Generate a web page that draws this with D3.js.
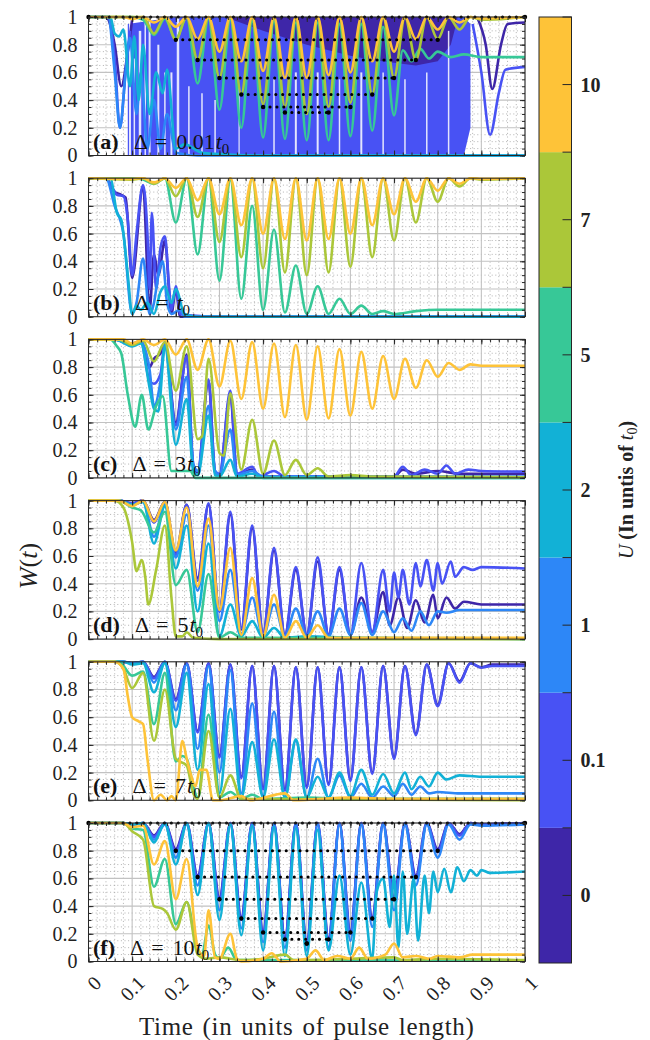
<!DOCTYPE html>
<html>
<head>
<meta charset="utf-8">
<script src="https://cdn.jsdelivr.net/npm/d3@7"></script>
<style>
  body { margin: 0; background: #fff; }
  svg { display: block; }
</style>
</head>
<body>
<svg id="chart" width="650" height="1040"></svg>
<script>
// ---- colour bar categories (U in units of t0) ----
const uLevels = ["0", "0.1", "1", "2", "5", "7", "10"];
const uColors = ["#3e26a8", "#4852f4", "#2d87f7", "#12b1d6", "#37c897", "#abc739", "#fec338"];

const panelTags = ["(a)", "(b)", "(c)", "(d)", "(e)", "(f)"];
const deltaValues = ["0.01", "", "3", "5", "7", "10"];

const xTicks = [0, 0.1, 0.2, 0.3, 0.4, 0.5, 0.6, 0.7, 0.8, 0.9, 1];
const yTicks = [0, 0.2, 0.4, 0.6, 0.8, 1];

// ---- panel (a), Delta = 0.01 t0 ----  [t, W], null = gap
const aU0 = [[0,1],[0.04,1],[0.06,0.8],[0.075,0.5],[0.09,0.75],[0.1,0.98],[0.105,null],[0.885,null],[0.89,1],[0.91,0.8],[0.925,0.48],[0.945,0.8],[0.96,0.95],[1,0.96]];
const aU01 = [[0,1],[0.045,1],[0.06,0.7],[0.072,0.2],[0.085,0.6],[0.095,0.9],[0.1,null],[0.875,null],[0.88,0.95],[0.9,0.6],[0.92,0.15],[0.94,0.45],[0.955,0.62],[1,0.64]];
const aU1 = [[0,1],[0.045,1],[0.06,0.6],[0.072,0.2],[0.085,0.6],[0.095,0.85],[0.11,0.3],[0.12,0.6],[0.135,0.05],[0.15,0.4],[0.165,0.05],[0.18,0.3],[0.2,0.02],[0.25,0],[1,0]];
const aU2 = [[0,1],[0.05,1],[0.06,0.88],[0.07,0.86],[0.08,0.91],[0.095,0.5],[0.105,0.86],[0.115,0.4],[0.125,0.8],[0.14,0.3],[0.155,0.6],[0.17,0.45],[0.18,0.62],[0.2,0.05],[0.22,0.08],[0.26,0.02],[0.3,0.01],[0.4,0],[1,0]];
const aU5 = [[0,1],[0.1,1],[0.125,0.98],[0.15,0.87],[0.175,0.99],[0.2,0.84],[0.225,1],[0.25,0.52],[0.275,0.99],[0.3,0.33],[0.325,0.98],[0.35,0.2],[0.375,0.97],[0.4,0.13],[0.425,0.97],[0.45,0.12],[0.475,0.96],[0.5,0.11],[0.525,0.96],[0.55,0.11],[0.575,0.95],[0.6,0.14],[0.625,0.95],[0.65,0.18],[0.675,0.93],[0.7,0.29],[0.72,0.76],[0.74,0.68],[0.76,0.77],[0.78,0.7],[0.8,0.75],[0.83,0.71],[0.86,0.73],[0.9,0.71],[1,0.71]];
const aU7 = [[0,1],[0.1,1],[0.125,1],[0.15,0.88],[0.175,1],[0.2,0.835],[0.225,1],[0.25,0.69],[0.275,1],[0.3,0.56],[0.325,1],[0.35,0.44],[0.375,1],[0.4,0.37],[0.425,1],[0.45,0.35],[0.475,1],[0.5,0.3],[0.525,1],[0.55,0.35],[0.575,1],[0.6,0.38],[0.625,1],[0.65,0.44],[0.675,1],[0.7,0.56],[0.725,1],[0.75,0.69],[0.775,1],[0.8,0.84],[0.825,1],[0.85,0.91],[0.875,1],[0.9,0.98],[1,1]];
const aU10 = [[0,1],[0.08,1],[0.1,0.985],[0.125,1],[0.15,0.96],[0.175,1],[0.2,0.93],[0.225,1],[0.25,0.84],[0.275,1],[0.3,0.75],[0.325,1],[0.35,0.68],[0.375,1],[0.4,0.61],[0.425,1],[0.45,0.56],[0.475,1],[0.5,0.56],[0.525,1],[0.55,0.58],[0.575,1],[0.6,0.6],[0.625,1],[0.65,0.68],[0.675,1],[0.7,0.75],[0.725,1],[0.75,0.84],[0.775,1],[0.8,0.91],[0.825,1],[0.85,0.96],[0.875,1],[0.9,0.99],[1,1]];
// fast oscillation envelopes [t, low, high]
const aFastU01 = [[0.09,0,0.95],[0.2,0,1],[0.5,0,1],[0.86,0,1],[0.875,0.2,0.95]];
const aFastU0 = [[0.33,0.98,1],[0.4,0.9,1],[0.45,0.85,1],[0.5,0.8,1],[0.55,0.76,1],[0.6,0.72,1],[0.65,0.69,1],[0.7,0.67,1],[0.75,0.65,1],[0.8,0.68,1],[0.83,0.8,1],[0.845,0.98,1]];
// white streaks inside the fast band [t, W top, width]
const aGaps = [[0.095,1,2],[0.105,0.7,1.5],[0.118,0.9,2.5],[0.13,1,1.5],[0.14,1,2],[0.16,0.8,2],[0.175,0.6,1.5],[0.19,0.6,2],[0.205,1,2.5],[0.23,0.5,1.5],[0.26,0.45,1.5],[0.29,0.4,1.5],[0.345,0.5,1.2],[0.425,0.55,1.5],[0.475,0.6,2],[0.525,0.6,2],[0.575,0.55,1.5],[0.625,0.6,2],[0.675,0.6,1.5],[0.725,0.55,1.5],[0.775,0.6,1.5],[0.825,0.9,1.5]];
// black reference: dotted rows [t start, t end, W]
const aRows = [[0,1,1],[0.2,0.8,0.835],[0.25,0.75,0.69],[0.3,0.7,0.56],[0.35,0.65,0.44],[0.4,0.6,0.35],[0.45,0.55,0.31]];

// ---- panel (b), Delta = t0 ----
const bU0 = [[0,1],[0.04,1],[0.06,0.9],[0.075,0.88],[0.085,0.86],[0.1,0.28],[0.125,0.94],[0.14,0.05],[0.15,0.45],[0.16,0.3],[0.175,0.55],[0.19,0.02],[0.2,0.2],[0.21,0],[1,0]];
const bU01 = [[0,1],[0.04,1],[0.055,0.93],[0.065,0.88],[0.08,0.87],[0.09,0.7],[0.1,0.3],[0.11,0.6],[0.125,0.95],[0.135,0.6],[0.14,0.2],[0.145,0.75],[0.155,0.2],[0.165,0.5],[0.175,0.58],[0.185,0.2],[0.19,0.05],[0.2,0.22],[0.21,0.02],[0.23,0.01],[0.3,0],[1,0]];
const bU1 = [[0,1],[0.04,1],[0.06,0.8],[0.08,0.6],[0.1,0.02],[0.11,0.1],[0.125,0.42],[0.14,0.02],[0.15,0.1],[0.16,0.3],[0.17,0.4],[0.18,0.1],[0.19,0.02],[0.21,0.05],[0.22,0],[1,0]];
const bU2 = [[0,1],[0.05,1],[0.065,0.75],[0.075,0.7],[0.09,0.3],[0.1,0.02],[0.11,0.08],[0.12,0.05],[0.135,0.1],[0.15,0.02],[0.165,0.18],[0.175,0.22],[0.19,0.1],[0.2,0.2],[0.22,0.02],[0.25,0],[1,0]];
const bU5 = [[0,1],[0.1,1],[0.125,0.99],[0.15,0.96],[0.175,1],[0.2,0.68],[0.225,1],[0.25,0.45],[0.275,1],[0.3,0.26],[0.325,0.99],[0.35,0.13],[0.375,0.8],[0.4,0.05],[0.425,0.63],[0.45,0.03],[0.475,0.37],[0.5,0.02],[0.525,0.22],[0.55,0.02],[0.575,0.13],[0.6,0.02],[0.625,0.08],[0.65,0.02],[0.675,0.04],[0.7,0.02],[0.75,0.04],[0.8,0.05],[0.9,0.05],[1,0.05]];
const bU7 = [[0,1],[0.1,0.99],[0.125,1],[0.15,0.96],[0.175,1],[0.2,0.87],[0.225,1],[0.25,0.72],[0.275,1],[0.3,0.54],[0.325,1],[0.35,0.43],[0.375,1],[0.4,0.35],[0.425,1],[0.45,0.32],[0.475,1],[0.5,0.3],[0.525,1],[0.55,0.32],[0.575,1],[0.6,0.36],[0.625,1],[0.65,0.43],[0.675,1],[0.7,0.55],[0.725,1],[0.75,0.68],[0.775,1],[0.8,0.83],[0.825,1],[0.85,0.94],[0.875,1],[0.9,0.99],[1,1]];
const bU10 = [[0,1],[0.1,0.995],[0.125,1],[0.15,0.97],[0.175,1],[0.2,0.93],[0.225,1],[0.25,0.84],[0.275,1],[0.3,0.74],[0.325,1],[0.35,0.66],[0.375,1],[0.4,0.6],[0.425,1],[0.45,0.56],[0.475,1],[0.5,0.55],[0.525,1],[0.55,0.56],[0.575,1],[0.6,0.6],[0.625,1],[0.65,0.66],[0.675,1],[0.7,0.74],[0.725,1],[0.75,0.83],[0.775,1],[0.8,0.91],[0.825,1],[0.85,0.96],[0.875,1],[0.9,0.995],[1,1]];

// ---- panel (c), Delta = 3 t0 ----
const cU0 = [[0,1],[0.06,1],[0.1,0.97],[0.12,0.99],[0.14,0.8],[0.15,0.86],[0.165,0.9],[0.175,0.98],[0.2,0.4],[0.225,0.89],[0.24,0.08],[0.25,0.04],[0.275,0.7],[0.29,0.04],[0.3,0.02],[0.325,0.6],[0.34,0.02],[0.375,0.06],[0.39,0.01],[0.7,0.01],[0.72,0.06],[0.75,0.03],[0.8,0.05],[0.85,0.03],[0.9,0.03],[1,0.03]];
const cU01 = [[0,1],[0.06,1],[0.1,0.96],[0.12,0.98],[0.14,0.7],[0.15,0.68],[0.165,0.75],[0.175,0.97],[0.2,0.38],[0.225,0.88],[0.24,0.1],[0.25,0.05],[0.275,0.71],[0.29,0.05],[0.3,0.03],[0.325,0.63],[0.34,0.03],[0.375,0.08],[0.39,0.01],[0.425,0.05],[0.45,0.01],[0.6,0.01],[0.7,0.01],[0.72,0.08],[0.74,0.02],[0.77,0.06],[0.8,0.03],[0.82,0.09],[0.84,0.03],[0.87,0.06],[0.9,0.05],[1,0.045]];
const cU1 = [[0,1],[0.06,1],[0.1,0.96],[0.12,0.98],[0.14,0.78],[0.15,0.52],[0.165,0.7],[0.175,0.96],[0.2,0.35],[0.225,0.73],[0.24,0.1],[0.25,0.05],[0.275,0.52],[0.29,0.05],[0.3,0.02],[0.325,0.35],[0.34,0.02],[0.375,0.05],[0.4,0.01],[1,0.01]];
const cU2 = [[0,1],[0.06,1],[0.1,0.95],[0.12,0.97],[0.14,0.65],[0.15,0.5],[0.16,0.48],[0.175,0.95],[0.2,0.24],[0.225,0.57],[0.24,0.05],[0.25,0.02],[0.275,0.45],[0.29,0.02],[0.3,0.01],[0.325,0.13],[0.34,0.01],[0.375,0.03],[0.4,0],[1,0]];
const cU5 = [[0,1],[0.05,1],[0.065,0.95],[0.075,0.9],[0.09,0.6],[0.107,0.37],[0.122,0.6],[0.137,0.35],[0.155,0.52],[0.17,0.59],[0.19,0.05],[0.233,0.05],[0.245,0],[1,0]];
const cU7 = [[0,1],[0.07,1],[0.1,0.96],[0.125,0.99],[0.15,0.84],[0.175,0.98],[0.2,0.63],[0.225,0.95],[0.25,0.28],[0.26,0.3],[0.275,0.86],[0.3,0.18],[0.31,0.16],[0.325,0.61],[0.35,0.06],[0.375,0.42],[0.4,0.03],[0.425,0.27],[0.45,0.02],[0.475,0.13],[0.5,0.02],[0.525,0.07],[0.55,0.01],[0.6,0.02],[0.65,0.01],[1,0.005]];
const cU10 = [[0,1],[0.08,1],[0.1,0.97],[0.125,1],[0.15,0.96],[0.175,1],[0.2,0.89],[0.225,1],[0.25,0.78],[0.275,1],[0.3,0.66],[0.325,0.99],[0.35,0.57],[0.375,0.98],[0.4,0.5],[0.425,0.97],[0.45,0.44],[0.475,0.96],[0.5,0.42],[0.525,0.95],[0.55,0.43],[0.575,0.93],[0.6,0.45],[0.625,0.91],[0.65,0.5],[0.675,0.88],[0.7,0.57],[0.725,0.86],[0.75,0.65],[0.775,0.85],[0.8,0.73],[0.825,0.83],[0.85,0.78],[0.875,0.82],[0.9,0.81],[1,0.81]];

// ---- panel (d), Delta = 5 t0 ----
const dU0 = [[0,1],[0.07,1],[0.1,0.98],[0.125,1],[0.15,0.86],[0.175,0.99],[0.2,0.63],[0.225,0.97],[0.25,0.44],[0.275,0.97],[0.3,0.2],[0.325,0.9],[0.35,0.07],[0.375,0.8],[0.4,0.04],[0.425,0.64],[0.45,0.03],[0.475,0.5],[0.5,0.03],[0.525,0.56],[0.55,0.03],[0.575,0.5],[0.6,0.03],[0.625,0.3],[0.65,0.05],[0.675,0.34],[0.69,0.1],[0.71,0.3],[0.73,0.08],[0.75,0.28],[0.77,0.12],[0.79,0.32],[0.8,0.15],[0.82,0.3],[0.84,0.22],[0.86,0.27],[0.9,0.25],[1,0.25]];
const dU01 = [[0,1],[0.07,1],[0.1,0.98],[0.125,1],[0.15,0.84],[0.175,0.99],[0.2,0.61],[0.225,0.97],[0.25,0.42],[0.275,0.98],[0.3,0.2],[0.325,0.92],[0.35,0.08],[0.375,0.82],[0.4,0.04],[0.425,0.66],[0.45,0.03],[0.475,0.52],[0.5,0.03],[0.525,0.59],[0.55,0.03],[0.575,0.52],[0.6,0.03],[0.625,0.55],[0.65,0.05],[0.675,0.5],[0.69,0.2],[0.7,0.48],[0.71,0.3],[0.72,0.5],[0.735,0.25],[0.75,0.55],[0.76,0.38],[0.775,0.57],[0.79,0.35],[0.8,0.55],[0.81,0.4],[0.83,0.56],[0.84,0.45],[0.86,0.52],[0.88,0.5],[0.9,0.52],[1,0.51]];
const dU1 = [[0,1],[0.07,1],[0.1,0.97],[0.125,0.99],[0.15,0.74],[0.175,0.97],[0.2,0.59],[0.225,0.9],[0.25,0.35],[0.275,0.82],[0.3,0.13],[0.325,0.5],[0.35,0.04],[0.375,0.3],[0.4,0.02],[0.425,0.25],[0.45,0.02],[0.475,0.22],[0.5,0.02],[0.525,0.2],[0.55,0.02],[0.575,0.22],[0.6,0.03],[0.625,0.26],[0.65,0.03],[0.675,0.2],[0.7,0.05],[0.72,0.15],[0.74,0.06],[0.76,0.2],[0.78,0.1],[0.8,0.2],[0.82,0.19],[0.85,0.21],[0.9,0.21],[1,0.21]];
const dU2 = [[0,1],[0.07,1],[0.1,0.97],[0.125,0.99],[0.15,0.69],[0.175,0.96],[0.2,0.51],[0.225,0.82],[0.25,0.2],[0.275,0.69],[0.3,0.02],[0.325,0.25],[0.35,0.02],[0.375,0.13],[0.4,0.01],[0.425,0.08],[0.45,0.01],[0.5,0.02],[0.6,0.01],[1,0]];
const dU5 = [[0,1],[0.07,1],[0.1,0.95],[0.12,0.93],[0.15,0.77],[0.175,0.92],[0.2,0.39],[0.225,0.5],[0.25,0.05],[0.275,0.47],[0.3,0.01],[0.325,0.05],[0.35,0.01],[1,0.005]];
const dU7 = [[0,1],[0.06,1],[0.08,0.95],[0.1,0.7],[0.11,0.49],[0.122,0.57],[0.13,0.45],[0.137,0.25],[0.155,0.5],[0.175,0.82],[0.19,0.3],[0.2,0.02],[0.215,0.02],[0.225,0.05],[0.24,0.01],[0.3,0],[1,0]];
const dU10 = [[0,1],[0.07,1],[0.1,0.96],[0.125,1],[0.15,0.85],[0.175,0.99],[0.2,0.64],[0.225,0.95],[0.25,0.38],[0.275,0.87],[0.3,0.21],[0.325,0.66],[0.35,0.03],[0.375,0.44],[0.4,0.02],[0.425,0.32],[0.45,0.01],[0.475,0.13],[0.5,0.01],[0.525,0.1],[0.55,0.01],[0.6,0.01],[0.7,0.01],[1,0.01]];

// ---- panel (e), Delta = 7 t0 ----
const eU0 = [[0,1],[0.08,1],[0.1,0.99],[0.125,1],[0.15,0.89],[0.175,1],[0.2,0.73],[0.225,0.99],[0.25,0.5],[0.275,0.99],[0.3,0.32],[0.325,0.98],[0.35,0.17],[0.375,0.97],[0.4,0.09],[0.425,0.97],[0.45,0.08],[0.475,0.96],[0.5,0.1],[0.525,0.96],[0.55,0.12],[0.575,0.96],[0.6,0.15],[0.625,0.96],[0.65,0.2],[0.675,0.97],[0.7,0.31],[0.725,0.97],[0.75,0.48],[0.775,0.98],[0.8,0.69],[0.825,0.99],[0.85,0.86],[0.875,0.99],[0.9,0.96],[0.925,0.98],[1,0.98]];
const eU01 = [[0,1],[0.08,1],[0.1,0.99],[0.125,1],[0.15,0.88],[0.175,1],[0.2,0.72],[0.225,0.99],[0.25,0.49],[0.275,0.99],[0.3,0.31],[0.325,0.98],[0.35,0.16],[0.375,0.97],[0.4,0.08],[0.425,0.97],[0.45,0.07],[0.475,0.96],[0.5,0.09],[0.525,0.96],[0.55,0.11],[0.575,0.96],[0.6,0.14],[0.625,0.96],[0.65,0.19],[0.675,0.97],[0.7,0.3],[0.725,0.97],[0.75,0.47],[0.775,0.98],[0.8,0.68],[0.825,0.99],[0.85,0.85],[0.875,0.99],[0.9,0.96],[0.925,0.97],[1,0.97]];
const eU1 = [[0,1],[0.08,1],[0.1,0.99],[0.125,1],[0.15,0.85],[0.175,1],[0.2,0.65],[0.225,0.98],[0.25,0.37],[0.275,0.97],[0.3,0.2],[0.325,0.94],[0.35,0.05],[0.375,0.7],[0.4,0.03],[0.425,0.64],[0.45,0.02],[0.475,0.43],[0.5,0.02],[0.525,0.3],[0.55,0.02],[0.575,0.18],[0.6,0.02],[0.625,0.12],[0.65,0.02],[0.675,0.1],[0.7,0.03],[0.72,0.12],[0.74,0.04],[0.76,0.1],[0.78,0.05],[0.8,0.06],[0.85,0.05],[1,0.05]];
const eU2 = [[0,1],[0.08,1],[0.1,0.98],[0.125,0.99],[0.15,0.78],[0.175,0.99],[0.2,0.53],[0.225,0.92],[0.25,0.22],[0.275,0.84],[0.3,0.05],[0.325,0.66],[0.35,0.02],[0.375,0.42],[0.4,0.02],[0.425,0.44],[0.45,0.02],[0.475,0.44],[0.5,0.02],[0.525,0.17],[0.55,0.02],[0.575,0.2],[0.6,0.03],[0.625,0.22],[0.65,0.04],[0.675,0.19],[0.7,0.05],[0.725,0.2],[0.74,0.08],[0.76,0.17],[0.78,0.1],[0.8,0.2],[0.82,0.15],[0.85,0.18],[0.9,0.17],[1,0.17]];
const eU5 = [[0,1],[0.07,1],[0.1,0.9],[0.125,0.93],[0.15,0.55],[0.175,0.92],[0.2,0.28],[0.215,0.32],[0.225,0.3],[0.24,0.1],[0.25,0.02],[0.275,0.62],[0.3,0.02],[0.325,0.06],[0.35,0.01],[0.375,0.04],[0.4,0.01],[0.5,0.02],[0.6,0.01],[1,0.01]];
const eU7 = [[0,1],[0.06,1],[0.08,0.95],[0.1,0.81],[0.125,0.92],[0.15,0.43],[0.175,0.8],[0.2,0.3],[0.225,0.25],[0.24,0.05],[0.25,0.01],[0.275,0.5],[0.3,0.02],[0.325,0.18],[0.35,0.01],[1,0]];
const eU10 = [[0,1],[0.06,1],[0.08,0.95],[0.09,0.75],[0.1,0.6],[0.115,0.57],[0.125,0.55],[0.135,0.3],[0.15,0],[0.165,0.04],[0.18,0],[0.19,0.03],[0.2,0],[0.215,0.43],[0.225,0.3],[0.235,0.18],[0.245,0.1],[0.255,0.22],[0.27,0.22],[0.285,0],[0.3,0],[0.35,0.03],[0.37,0],[0.45,0.05],[0.47,0],[0.6,0.02],[0.7,0.01],[1,0.01]];

// ---- panel (f), Delta = 10 t0 ----
const fU0 = [[0,1],[0.08,1],[0.1,0.99],[0.125,1],[0.15,0.91],[0.175,1],[0.2,0.81],[0.225,1],[0.25,0.62],[0.275,1],[0.3,0.46],[0.325,1],[0.35,0.32],[0.375,1],[0.4,0.22],[0.425,1],[0.45,0.17],[0.475,1],[0.5,0.14],[0.525,1],[0.55,0.17],[0.575,1],[0.6,0.22],[0.625,1],[0.65,0.32],[0.675,1],[0.7,0.46],[0.725,1],[0.75,0.62],[0.775,1],[0.8,0.81],[0.825,1],[0.85,0.92],[0.875,1],[0.9,0.99],[1,1]];
const fU01 = [[0,1],[0.08,1],[0.1,0.99],[0.125,1],[0.15,0.9],[0.175,1],[0.2,0.79],[0.225,1],[0.25,0.6],[0.275,1],[0.3,0.44],[0.325,1],[0.35,0.3],[0.375,1],[0.4,0.2],[0.425,1],[0.45,0.15],[0.475,1],[0.5,0.12],[0.525,1],[0.55,0.15],[0.575,1],[0.6,0.2],[0.625,1],[0.65,0.3],[0.675,1],[0.7,0.44],[0.725,1],[0.75,0.6],[0.775,1],[0.8,0.79],[0.825,1],[0.85,0.91],[0.875,1],[0.9,0.99],[1,1]];
const fU1 = [[0,1],[0.08,1],[0.1,0.99],[0.125,1],[0.15,0.88],[0.175,0.99],[0.2,0.75],[0.225,0.99],[0.25,0.55],[0.275,0.99],[0.3,0.37],[0.325,0.99],[0.35,0.24],[0.375,0.99],[0.4,0.14],[0.425,0.99],[0.45,0.1],[0.475,0.99],[0.5,0.08],[0.525,0.99],[0.55,0.1],[0.575,0.99],[0.6,0.15],[0.625,0.99],[0.65,0.25],[0.675,0.99],[0.7,0.37],[0.725,0.99],[0.75,0.55],[0.775,0.99],[0.8,0.75],[0.825,0.99],[0.85,0.88],[0.875,0.99],[0.9,0.98],[1,0.99]];
const fU2 = [[0,1],[0.08,1],[0.1,0.99],[0.125,1],[0.15,0.86],[0.175,1],[0.2,0.7],[0.225,1],[0.25,0.48],[0.275,1],[0.3,0.3],[0.325,0.99],[0.35,0.19],[0.375,0.98],[0.4,0.08],[0.425,0.97],[0.45,0.04],[0.475,0.96],[0.5,0.04],[0.525,0.95],[0.55,0.08],[0.575,0.62],[0.6,0.05],[0.625,0.57],[0.65,0.02],[0.66,0.5],[0.675,0.6],[0.69,0.25],[0.7,0.62],[0.71,0.1],[0.72,0.65],[0.73,0.2],[0.745,0.6],[0.755,0.15],[0.77,0.62],[0.78,0.35],[0.79,0.65],[0.8,0.5],[0.815,0.67],[0.83,0.5],[0.845,0.68],[0.86,0.58],[0.875,0.66],[0.89,0.62],[0.9,0.66],[0.92,0.64],[1,0.65]];
const fU5 = [[0,1],[0.08,1],[0.1,0.96],[0.125,0.95],[0.15,0.54],[0.175,0.74],[0.2,0.27],[0.225,0.43],[0.25,0.08],[0.26,0.05],[0.275,0.26],[0.29,0.05],[0.3,0.02],[0.32,0.1],[0.34,0.01],[0.4,0.01],[1,0.005]];
const fU7 = [[0,1],[0.08,1],[0.1,0.94],[0.125,0.88],[0.15,0.4],[0.17,0.38],[0.18,0.35],[0.2,0.23],[0.225,0.43],[0.25,0.05],[0.27,0.02],[0.3,0.03],[0.35,0.01],[0.4,0.02],[0.45,0.05],[0.47,0.01],[0.6,0.02],[0.7,0.03],[0.72,0.01],[0.8,0.02],[1,0.01]];
const fU10 = [[0,1],[0.08,1],[0.1,0.97],[0.125,0.98],[0.15,0.7],[0.175,0.87],[0.2,0.45],[0.225,0.74],[0.25,0.1],[0.265,0.04],[0.275,0.37],[0.29,0.03],[0.3,0.02],[0.325,0.2],[0.34,0.02],[0.35,0],[0.4,0.02],[0.42,0.06],[0.44,0],[0.5,0.02],[0.52,0.08],[0.54,0.01],[0.57,0.04],[0.6,0.02],[0.62,0.1],[0.64,0.02],[0.68,0.05],[0.7,0.13],[0.72,0.03],[0.75,0.04],[0.78,0.02],[0.8,0.04],[0.85,0.03],[0.88,0.05],[0.9,0.05],[1,0.05]];
const fRows = [[0,1,1],[0.2,0.8,0.8],[0.25,0.75,0.61],[0.3,0.7,0.45],[0.35,0.65,0.31],[0.4,0.6,0.21],[0.45,0.55,0.16],[0.5,0.5,0.13]];

// table of panels built from the arrays above
const panels = [
  { curves: [aU0, aU01, aU1, aU2, aU5, aU7, aU10], fast: [[aFastU01, 1], [aFastU0, 0]], gaps: aGaps, rows: aRows },
  { curves: [bU0, bU01, bU1, bU2, bU5, bU7, bU10] },
  { curves: [cU0, cU01, cU1, cU2, cU5, cU7, cU10] },
  { curves: [dU0, dU01, dU1, dU2, dU5, dU7, dU10] },
  { curves: [eU0, eU01, eU1, eU2, eU5, eU7, eU10] },
  { curves: [fU0, fU01, fU1, fU2, fU5, fU7, fU10], rows: fRows },
];

const fontFamily = "'Liberation Serif', 'Times New Roman', serif";
const svg = d3.select("#chart");
const x = d3.scaleLinear().domain([0, 1]).range([88.5, 525]);
const panelTop = 17, panelStep = 161.2, panelH = 138.5;

const xMinor = d3.range(0, 1.0001, 0.02);
const yMinor = d3.range(0, 1.0001, 0.05);

panels.forEach((p, i) => {
  const top = panelTop + i * panelStep;
  const y = d3.scaleLinear().domain([0, 1]).range([top + panelH, top]);
  const g = svg.append("g");

  // minor dotted grid
  g.append("g").selectAll("line").data(xMinor.filter((v) => Math.round(v * 50) % 5 !== 0))
    .join("line")
    .attr("x1", (d) => x(d)).attr("x2", (d) => x(d))
    .attr("y1", y(0)).attr("y2", y(1))
    .attr("stroke", "#a0a0a0").attr("stroke-width", 0.8).attr("stroke-dasharray", "1,2.6");
  g.append("g").selectAll("line").data(yMinor.filter((v) => Math.round(v * 20) % 4 !== 0))
    .join("line")
    .attr("y1", (d) => y(d)).attr("y2", (d) => y(d))
    .attr("x1", x(0)).attr("x2", x(1))
    .attr("stroke", "#a0a0a0").attr("stroke-width", 0.8).attr("stroke-dasharray", "1,2.6");
  // major grid
  g.append("g").selectAll("line").data(xTicks)
    .join("line")
    .attr("x1", (d) => x(d)).attr("x2", (d) => x(d))
    .attr("y1", y(0)).attr("y2", y(1))
    .attr("stroke", "#c2c2c2").attr("stroke-width", 1.1);
  g.append("g").selectAll("line").data(yTicks)
    .join("line")
    .attr("y1", (d) => y(d)).attr("y2", (d) => y(d))
    .attr("x1", x(0)).attr("x2", x(1))
    .attr("stroke", "#c2c2c2").attr("stroke-width", 1.1);

  // fast oscillations (panel a)
  if (p.fast) {
    const area = d3.area().x((d) => x(d[0])).y0((d) => y(d[1])).y1((d) => y(d[2]));
    p.fast.forEach(([env, ci]) => {
      g.append("path").attr("d", area(env)).attr("fill", uColors[ci]);
    });
    g.append("g").selectAll("line").data(p.gaps)
      .join("line")
      .attr("x1", (d) => x(d[0])).attr("x2", (d) => x(d[0]))
      .attr("y1", y(0)).attr("y2", (d) => y(d[1]))
      .attr("stroke", "#fff").attr("stroke-width", (d) => d[2]).attr("opacity", 0.85);
  }

  const line = d3.line()
    .defined((d) => d[1] !== null)
    .x((d) => x(d[0]))
    .y((d) => y(d[1]))
    .curve(d3.curveMonotoneX);

  g.append("g").selectAll("path").data(p.curves)
    .join("path")
    .attr("d", (d) => line(d))
    .attr("fill", "none")
    .attr("stroke", (d, k) => uColors[k])
    .attr("stroke-width", 2.6)
    .attr("stroke-linejoin", "round");

  // black reference rows (dots)
  if (p.rows) {
    const rg = g.append("g");
    rg.selectAll("line").data(p.rows)
      .join("line")
      .attr("x1", (d) => x(d[0])).attr("x2", (d) => x(d[1]))
      .attr("y1", (d) => y(d[2])).attr("y2", (d) => y(d[2]))
      .attr("stroke", "#000").attr("stroke-width", 3)
      .attr("stroke-linecap", "round")
      .attr("stroke-dasharray", "0.1,6.8");
    const ends = p.rows.flatMap((r) => [[r[0], r[2]], [r[1], r[2]]]);
    rg.selectAll("circle").data(ends)
      .join("circle")
      .attr("cx", (d) => x(d[0])).attr("cy", (d) => y(d[1]))
      .attr("r", 2.2).attr("fill", "#000");
  }

  // box and ticks
  const axColor = "#262626";
  const mk = (axis, tr) => {
    const a = g.append("g").attr("transform", tr).call(axis);
    a.select(".domain").remove();
    a.selectAll(".tick line").attr("stroke", axColor);
    return a;
  };
  mk(d3.axisBottom(x).tickValues(xMinor).tickSize(-3).tickFormat(""), `translate(0,${y(0)})`);
  mk(d3.axisTop(x).tickValues(xMinor).tickSize(-3).tickFormat(""), `translate(0,${y(1)})`);
  mk(d3.axisBottom(x).tickValues(xTicks).tickSize(-5).tickFormat(""), `translate(0,${y(0)})`);
  mk(d3.axisTop(x).tickValues(xTicks).tickSize(-5).tickFormat(""), `translate(0,${y(1)})`);
  mk(d3.axisRight(y).tickValues(yMinor).tickSize(-3).tickFormat(""), `translate(${x(1)},0)`);
  mk(d3.axisLeft(y).tickValues(yMinor).tickSize(-3).tickFormat(""), `translate(${x(0)},0)`);
  mk(d3.axisRight(y).tickValues(yTicks).tickSize(-5).tickFormat(""), `translate(${x(1)},0)`);
  const yl = mk(d3.axisLeft(y).tickValues(yTicks).tickSize(-5).tickPadding(11).tickFormat(d3.format("~g")), `translate(${x(0)},0)`);
  yl.selectAll("text").style("font-size", "20px").attr("fill", "#222");

  g.append("rect")
    .attr("x", x(0)).attr("y", y(1))
    .attr("width", x(1) - x(0)).attr("height", y(0) - y(1))
    .attr("fill", "none").attr("stroke", axColor).attr("stroke-width", 1);

  // panel annotation
  const t = g.append("text")
    .attr("x", x(0) + 4.5).attr("y", y(0) - 7)
    .attr("fill", "#111")
    .style("font-size", "22px");
  t.append("tspan").attr("font-weight", "bold").text(panelTags[i]);
  t.append("tspan").attr("dx", 15).text("\u0394");
  t.append("tspan").attr("dx", 7).text("=");
  if (deltaValues[i]) t.append("tspan").attr("dx", 9).text(deltaValues[i]);
  t.append("tspan").attr("dx", deltaValues[i] ? 1 : 8).attr("font-style", "italic").text("t");
  t.append("tspan").attr("dy", 5).style("font-size", "15px").text("0");

  // x tick labels on the last panel
  if (i === panels.length - 1) {
    g.append("g").selectAll("text").data(xTicks)
      .join("text")
      .attr("transform", (d) => `translate(${x(d) + 9},${y(0) + 18}) rotate(-45)`)
      .attr("text-anchor", "end")
      .attr("dy", "0.35em")
      .attr("fill", "#222")
      .style("font-size", "20px")
      .text((d) => d3.format("~g")(d));
  }
});

// axis titles
svg.append("text")
  .attr("x", (x(0) + x(1)) / 2).attr("y", 1035)
  .attr("text-anchor", "middle")
  .attr("fill", "#222")
  .style("font-size", "25px")
  .style("letter-spacing", "0.7px")
  .style("word-spacing", "2px")
  .text("Time (in units of pulse length)");

const yTitle = svg.append("text")
  .attr("transform", "translate(37,566) rotate(-90)")
  .attr("text-anchor", "middle")
  .attr("fill", "#222")
  .style("font-size", "26px");
yTitle.append("tspan").attr("font-style", "italic").text("W");
yTitle.append("tspan").text("(");
yTitle.append("tspan").attr("font-style", "italic").text("t");
yTitle.append("tspan").text(")");

// ---- colour bar ----
const cbX = 539, cbW = 32.5;
const cb = d3.scaleBand().domain(uLevels.slice().reverse()).range([17, 963]);
const cbg = svg.append("g");
cbg.selectAll("rect").data(uLevels)
  .join("rect")
  .attr("x", cbX).attr("y", (d) => cb(d))
  .attr("width", cbW).attr("height", cb.bandwidth())
  .attr("fill", (d, k) => uColors[k]);
const cbTicks = uLevels.flatMap((d) => [cb(d), cb(d) + cb.bandwidth() / 2]);
cbg.selectAll("line").data(cbTicks)
  .join("line")
  .attr("x1", cbX + cbW - 9).attr("x2", cbX + cbW)
  .attr("y1", (d) => d).attr("y2", (d) => d)
  .attr("stroke", "#262626").attr("stroke-width", 1);
cbg.append("rect")
  .attr("x", cbX).attr("y", 17).attr("width", cbW).attr("height", 946)
  .attr("fill", "none").attr("stroke", "#262626").attr("stroke-width", 1);
cbg.selectAll("text").data(uLevels)
  .join("text")
  .attr("x", cbX + cbW + 9)
  .attr("y", (d) => cb(d) + cb.bandwidth() / 2)
  .attr("dy", "0.35em")
  .attr("font-weight", "bold")
  .attr("fill", "#222")
  .style("font-size", "20px")
  .text((d) => d);

const cbTitle = svg.append("text")
  .attr("transform", "translate(633,490) rotate(-90)")
  .attr("text-anchor", "middle")
  .attr("fill", "#222")
  .style("font-size", "20px");
cbTitle.append("tspan").attr("font-style", "italic").text("U");
cbTitle.append("tspan").attr("font-weight", "bold").text(" (In untis of ");
cbTitle.append("tspan").attr("font-style", "italic").text("t");
cbTitle.append("tspan").attr("dy", 4).style("font-size", "14px").text("0");
cbTitle.append("tspan").attr("dy", -4).attr("font-weight", "bold").text(")");

// one serif family for every text on the page
svg.selectAll("text").attr("font-family", null).style("font-family", fontFamily);
svg.selectAll("g").attr("font-family", null);
</script>
</body>
</html>
